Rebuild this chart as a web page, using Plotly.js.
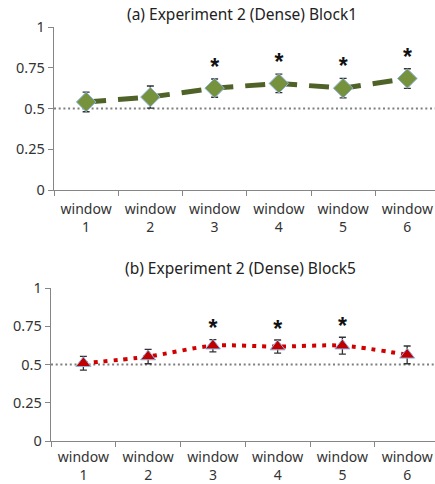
<!DOCTYPE html>
<html><head><meta charset="utf-8">
<script src="https://cdn.plot.ly/plotly-3.0.1.min.js"></script>
<style>body{margin:0;padding:0;background:#fff}#chart{width:435px;height:484px}</style>
</head><body><div id="chart"></div>
<script>
const categories = ["window<br>1","window<br>2","window<br>3","window<br>4","window<br>5","window<br>6"];
const block1Values = [0.54, 0.57, 0.625, 0.654, 0.625, 0.684];
const block1Errors = [0.06, 0.068, 0.056, 0.057, 0.06, 0.06];
const block1Signif = [false, false, true, true, true, true];
const block5Values = [0.508, 0.552, 0.623, 0.617, 0.623, 0.563];
const block5Errors = [0.045, 0.047, 0.04, 0.043, 0.055, 0.058];
const block5Signif = [false, false, true, true, true, false];
const yTicks = [0, 0.25, 0.5, 0.75, 1];
const yTickText = ["0", "0.25", "0.5", "0.75", "1"];
const chance = 0.5;

function stars(vals, errs, sig, xa, ya) {
  const x = [], y = [];
  sig.forEach((s, i) => { if (s) { x.push(categories[i]); y.push(vals[i] + errs[i] + 0.06); } });
  return {x, y, mode: 'text', text: x.map(() => '<b>*</b>'), textposition: 'middle center',
    textfont: {size: 23, color: '#111', family: 'Liberation Sans'}, xaxis: xa, yaxis: ya,
    hoverinfo: 'skip', showlegend: false, cliponaxis: false};
}

const traces = [
  {x: categories, y: block1Values, type: 'scatter', mode: 'lines+markers',
   line: {color: '#4F6228', width: 5, dash: '20px,12px'},
   marker: {symbol: 'diamond', size: 15, color: '#76923C', line: {color: '#8EB4E3', width: 1}},
   error_y: {type: 'data', array: block1Errors, visible: true, color: '#333', thickness: 1.3, width: 3.5},
   xaxis: 'x', yaxis: 'y', showlegend: false, cliponaxis: false},
  stars(block1Values, block1Errors, block1Signif, 'x', 'y'),
  {x: categories, y: block5Values, type: 'scatter', mode: 'lines+markers',
   line: {color: '#D00000', width: 4, dash: '4px,6px', shape: 'spline', smoothing: 0.8},
   marker: {symbol: 'triangle-up', size: 13, color: '#C00000', line: {color: '#8EB4E3', width: 1}},
   error_y: {type: 'data', array: block5Errors, visible: true, color: '#333', thickness: 1.3, width: 3.5},
   xaxis: 'x2', yaxis: 'y2', showlegend: false, cliponaxis: false},
  stars(block5Values, block5Errors, block5Signif, 'x2', 'y2')
];

const tf = {family: 'Noto Sans, sans-serif', size: 14.5, color: '#333'};
const tfx = {family: 'Noto Sans, sans-serif', size: 14, color: '#333'};
function xax(dom, anchor, standoff) {
  return {domain: dom, anchor: anchor, type: 'category', range: [-0.5, 5.43],
    tickson: 'boundaries', ticks: 'outside', ticklen: 5, tickcolor: '#868686',
    showline: true, linecolor: '#868686', linewidth: 1.3, showgrid: false, zeroline: false,
    ticklabelstandoff: standoff, tickfont: tfx, fixedrange: true};
}
function yax(dom, anchor) {
  return {domain: dom, anchor: anchor, range: [0, 1], tickvals: yTicks, ticktext: yTickText,
    ticks: 'outside', ticklen: 5, tickcolor: '#868686', showline: true, linecolor: '#868686',
    linewidth: 1.3, showgrid: false, zeroline: false, tickfont: tf};
}

const layout = {
  width: 435, height: 484, margin: {l: 0, r: 0, t: 0, b: 0},
  paper_bgcolor: '#fff', plot_bgcolor: '#fff', showlegend: false,
  font: {family: 'Noto Sans, sans-serif', size: 13, color: '#333'},
  xaxis: xax([54/435, 1], 'y', 6),
  yaxis: yax([1 - 190/484, 1 - 27/484], 'x'),
  xaxis2: xax([51/435, 1], 'y2', 3),
  yaxis2: yax([1 - 441/484, 1 - 288/484], 'x2'),
  shapes: [
    {type: 'line', xref: 'x domain', yref: 'y', x0: 0, x1: 1, y0: chance, y1: chance,
     line: {color: '#7F7F7F', width: 2, dash: '2px,2.7px'}, layer: 'below'},
    {type: 'line', xref: 'x2 domain', yref: 'y2', x0: 0, x1: 1, y0: chance, y1: chance,
     line: {color: '#7F7F7F', width: 2, dash: '2px,2.7px'}, layer: 'below'}
  ],
  annotations: [
    {text: '(a) Experiment 2 (Dense) Block1', xref: 'paper', yref: 'paper', x: 242/435, y: 1 - 14/484,
     showarrow: false, font: {family: 'Noto Sans, sans-serif', size: 15.5, color: '#222'}, xanchor: 'center', yanchor: 'middle'},
    {text: '(b) Experiment 2 (Dense) Block5', xref: 'paper', yref: 'paper', x: 240/435, y: 1 - 268/484,
     showarrow: false, font: {family: 'Noto Sans, sans-serif', size: 15.5, color: '#222'}, xanchor: 'center', yanchor: 'middle'}
  ]
};
Plotly.newPlot('chart', traces, layout, {displayModeBar: false, staticPlot: true});
</script></body></html>
